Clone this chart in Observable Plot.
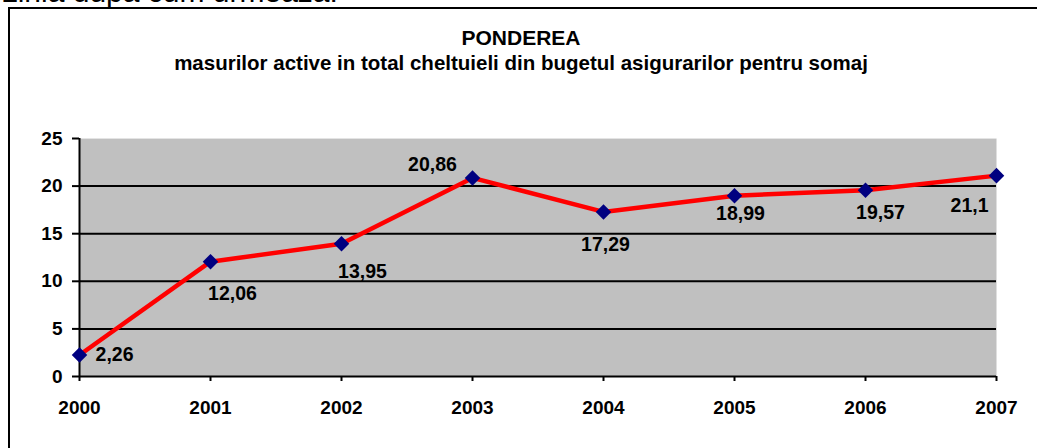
<!DOCTYPE html>
<html>
<head>
<meta charset="utf-8">
<script src="https://cdn.jsdelivr.net/npm/d3@7"></script>
<script src="https://cdn.jsdelivr.net/npm/@observablehq/plot@0.6"></script>
<style>
  body { margin: 0; background: #fff; font-family: Arial, "Liberation Sans", sans-serif; }
  #wrap { position: relative; width: 1037px; height: 448px; overflow: hidden; background: #fff; }
  #chart { position: absolute; left: 0; top: 0; }
  #frame { position: absolute; left: 8px; top: 7px; width: 1100px; height: 500px; border-left: 2px solid #000; border-top: 2px solid #000; }
  #intro { position: absolute; left: 1px; top: -23px; font-size: 30px; line-height: 30px; white-space: nowrap; color: #000; }
  .ttl { position: absolute; left: 0; width: 1042px; text-align: center; font-weight: bold; color: #000; white-space: nowrap; }
  #title { top: 27px; font-size: 21px; line-height: 21px; }
  #subtitle { top: 53px; font-size: 20.5px; line-height: 20.5px; }
</style>
</head>
<body>
<div id="wrap">
  <div id="intro"></div>
  <div id="frame"></div>
  <div id="chart"></div>
  <div id="title" class="ttl"></div>
  <div id="subtitle" class="ttl"></div>
</div>
<script>
const intro = "Linia dupa cum urmeaza:";
const title = "PONDEREA";
const subtitle = "masurilor active in total cheltuieli din bugetul asigurarilor pentru somaj";
const years = ["2000", "2001", "2002", "2003", "2004", "2005", "2006", "2007"];
const values = [2.26, 12.06, 13.95, 20.86, 17.29, 18.99, 19.57, 21.1];
const yTicks = [0, 5, 10, 15, 20, 25];
const gridValues = [5, 10, 15, 20];

document.getElementById("intro").textContent = intro;
document.getElementById("title").textContent = title;
document.getElementById("subtitle").textContent = subtitle;

const data = years.map((year, i) => ({year, value: values[i], label: String(values[i]).replace(".", ",")}));

// label placement (dx, dy) per point, mimicking Excel's label positions
const labelPlacement = [[35, 0], [22, 32], [21, 28], [-40, -13], [2, 33], [6, 18], [15, 23], [-27, 30]];

const chart = Plot.plot({
  width: 1037,
  height: 448,
  marginLeft: 79,
  marginRight: 41,
  marginTop: 138,
  marginBottom: 72,
  style: {fontFamily: "Arial, 'Liberation Sans', sans-serif", fontSize: "19px", fontWeight: "bold", color: "#000", background: "transparent", overflow: "visible"},
  x: {type: "point", domain: years, padding: 0, label: null},
  y: {domain: [0, 25], label: null},
  marks: [
    Plot.frame({fill: "#c0c0c0", stroke: null}),
    Plot.ruleY([25], {stroke: "#e4e4e4", strokeWidth: 1}),
    Plot.ruleY(gridValues, {stroke: "#000", strokeWidth: 2}),
    Plot.axisY({ticks: yTicks, tickSize: 7, tickPadding: 10, strokeWidth: 2, tickFormat: d => String(d), label: null}),
    Plot.axisX({tickSize: 5, tickPadding: 19, strokeWidth: 2, label: null}),
    Plot.ruleY([0], {stroke: "#000", strokeWidth: 2}),
    Plot.ruleX([years[0]], {stroke: "#000", strokeWidth: 2}),
    Plot.line(data, {x: "year", y: "value", stroke: "#ff0000", strokeWidth: 4.5}),
    Plot.dot(data, {x: "year", y: "value", symbol: "diamond2", r: 7, fill: "#000080", stroke: null}),
    ...labelPlacement.map(([dx, dy], i) => Plot.text([data[i]], {x: "year", y: "value", text: "label", dx, dy, fill: "#000", fontWeight: "bold", fontSize: 19.5}))
  ]
});
document.getElementById("chart").appendChild(chart);
</script>
</body>
</html>
